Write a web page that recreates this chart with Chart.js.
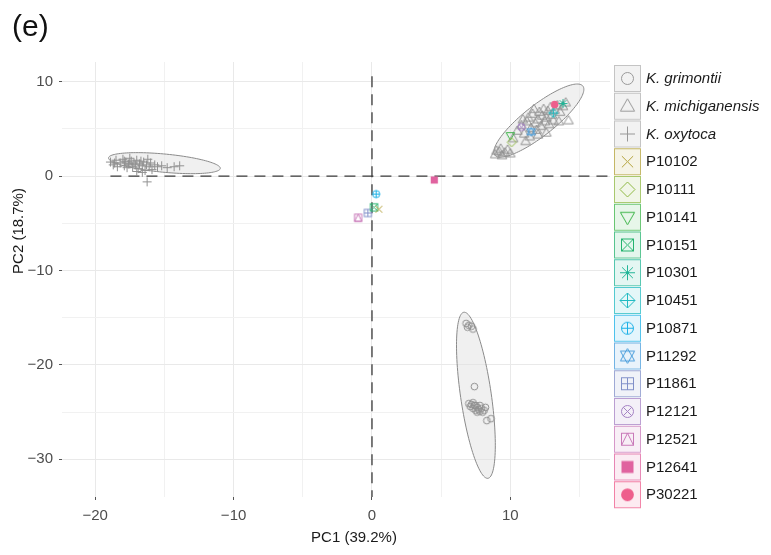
<!DOCTYPE html>
<html>
<head>
<meta charset="utf-8">
<title>PCA</title>
<script src="https://cdn.jsdelivr.net/npm/chart.js@4"></script>
<style>
    html, body { margin: 0; padding: 0; background: #fff; }
    #wrap { width: 771px; height: 555px; }
</style>
</head>
<body>
<div id="wrap"><canvas id="pca" width="771" height="555"></canvas></div>
<script>
// -------------------------------
// Daten (PC1, PC2)
// -------------------------------
const grimontii = [
    [6.8, -15.6], [7.0, -15.8], [7.2, -15.9], [7.3, -16.2], [6.9, -16.0],
    [7.4, -22.3],
    [7.0, -24.1], [7.1, -24.4], [7.2, -24.2], [7.3, -24.6], [7.4, -24.3],
    [7.5, -24.8], [7.6, -24.5], [7.7, -24.7], [7.8, -24.9], [7.9, -24.6],
    [8.0, -25.0], [8.1, -24.8], [8.2, -24.5], [7.5, -24.3], [7.3, -24.0],
    [7.8, -24.3], [8.3, -25.9], [8.6, -25.7], [7.6, -25.0]
];

const michiganensis = [
    [8.9, 2.3], [9.2, 2.6], [9.4, 2.2], [9.6, 2.5], [9.8, 2.8], [9.3, 2.9], [10.0, 2.4], [9.0, 2.7],
    [10.5, 4.8], [10.8, 5.4], [11.0, 4.5], [11.2, 5.8], [11.3, 6.2], [11.5, 5.1], [11.6, 6.6],
    [11.8, 5.6], [11.9, 4.9], [12.0, 6.0], [12.1, 6.8], [12.2, 5.3], [12.3, 6.4], [12.4, 7.1],
    [12.5, 5.8], [12.6, 6.2], [12.7, 6.9], [12.8, 5.5], [12.9, 7.3], [13.0, 6.5], [13.2, 7.0],
    [13.4, 7.5], [13.6, 6.8], [13.8, 7.4], [14.0, 7.8], [12.0, 4.4], [11.4, 4.2], [11.7, 7.1],
    [10.9, 6.0], [13.1, 5.9], [13.5, 5.8], [14.2, 5.9], [10.2, 4.0], [11.1, 3.7], [12.6, 4.6]
];

const oxytoca = [
    [-18.9, 1.5], [-18.7, 1.2], [-18.5, 1.7], [-18.4, 1.0], [-18.2, 1.4], [-18.0, 1.8],
    [-17.9, 1.1], [-17.8, 1.5], [-17.7, 0.9], [-17.6, 1.3], [-17.5, 1.9], [-17.4, 1.6],
    [-17.3, 1.0], [-17.2, 1.4], [-17.1, 1.2], [-17.0, 1.7], [-16.9, 0.8], [-16.8, 1.3],
    [-16.7, 1.6], [-16.6, 1.1], [-16.5, 1.5], [-16.4, 0.6], [-16.3, 1.2], [-16.2, 1.8],
    [-16.1, 1.0], [-16.0, 1.4], [-15.9, 0.7], [-15.7, 1.2], [-15.5, 1.0], [-15.2, 1.1],
    [-14.8, 0.9], [-14.3, 1.0], [-13.9, 1.1], [-17.5, 1.3], [-17.9, 1.6], [-16.6, 0.4],
    [-16.25, -0.6], [-17.0, 0.5], [-18.6, 1.4]
];

const speciesNames = ["K. grimontii", "K. michiganensis", "K. oxytoca"];
const speciesShapes = ["circle", "triangle", "plus"];

const sampleIds = ["P10102", "P10111", "P10141", "P10151", "P10301", "P10451", "P10871",
                   "P11292", "P11861", "P12121", "P12521", "P12641", "P30221"];
const samplePC1 = [0.5, 10.1, 10.0, 0.15, 13.8, 13.1, 0.3, 11.5, -0.3, 10.8, -1.0, 4.5, 13.2];
const samplePC2 = [-3.5, 3.6, 4.3, -3.3, 7.7, 6.7, -1.9, 4.7, -3.9, 5.2, -4.4, -0.4, 7.6];
const sampleShapes = ["x", "diamond", "triDown", "squareX", "asterisk", "diamondPlus", "circlePlus",
                      "starDavid", "squarePlus", "circleX", "squareTri", "squareFill", "circleFill"];
const sampleColors = ["#B3A13A", "#8FB843", "#3DB549", "#25B36F", "#22B597", "#22BBC2", "#1BB0E6",
                      "#4A9EDC", "#8190C8", "#A582C4", "#C97AB9", "#E0629F", "#EE5E8C"];

// Ellipsen: Mittelpunkt und Halbachsen (PC1, PC2)
const ellipseCentre = [[7.51, -23.22], [12.06, 5.89], [-15.0, 1.38]];
const ellipseAxisA  = [[0.87, -8.80], [3.18, 3.66], [4.04, -0.53]];
const ellipseAxisB  = [[1.1, 0.23], [0.68, -1.28], [-0.06, 0.98]];

const xTicks = [-20, -10, 0, 10];
const yTicks = [10, 0, -10, -20, -30];

const GREY = "#919191";
const FONT = "'Liberation Sans', Arial, sans-serif";

// -------------------------------
// Symbole als Canvas
// -------------------------------
function makeSymbol(kind, color, r) {
    const size = Math.ceil(2 * r + 4);
    const c = document.createElement("canvas");
    c.width = c.height = size;
    const g = c.getContext("2d");
    g.translate(size / 2, size / 2);
    g.strokeStyle = color;
    g.fillStyle = color;
    g.lineWidth = 1;

    const line = (x1, y1, x2, y2) => { g.beginPath(); g.moveTo(x1, y1); g.lineTo(x2, y2); g.stroke(); };
    const circle = rr => { g.beginPath(); g.arc(0, 0, rr, 0, Math.PI * 2); g.stroke(); };
    const square = s => g.strokeRect(-s, -s, 2 * s, 2 * s);
    const tri = (rr, dir) => {
        g.beginPath();
        g.moveTo(0, -rr * dir);
        g.lineTo(rr * 0.95, rr * 0.65 * dir);
        g.lineTo(-rr * 0.95, rr * 0.65 * dir);
        g.closePath();
        g.stroke();
    };
    const plus = rr => { line(-rr, 0, rr, 0); line(0, -rr, 0, rr); };
    const cross = rr => { line(-rr, -rr, rr, rr); line(-rr, rr, rr, -rr); };
    const diamond = rr => {
        g.beginPath();
        g.moveTo(0, -rr); g.lineTo(rr, 0); g.lineTo(0, rr); g.lineTo(-rr, 0);
        g.closePath();
        g.stroke();
    };
    const s = r * 0.8;

    switch (kind) {
        case "circle": circle(r * 0.8); break;
        case "triangle": tri(r, 1); break;
        case "triDown": tri(r, -1); break;
        case "plus": plus(r); break;
        case "x": cross(r * 0.75); break;
        case "diamond": diamond(r); break;
        case "squareX": square(s); cross(s); break;
        case "asterisk": plus(r); cross(r * 0.72); break;
        case "diamondPlus": diamond(r); plus(r); break;
        case "circlePlus": circle(r * 0.8); plus(r * 0.8); break;
        case "starDavid": tri(r, 1); tri(r, -1); break;
        case "squarePlus": square(s); plus(s); break;
        case "circleX": circle(r * 0.8); cross(r * 0.57); break;
        case "squareTri":
            square(s);
            g.beginPath(); g.moveTo(0, -s); g.lineTo(s, s); g.lineTo(-s, s); g.closePath(); g.stroke();
            break;
        case "squareFill": g.fillRect(-s, -s, 2 * s, 2 * s); break;
        case "circleFill": g.beginPath(); g.arc(0, 0, r * 0.85, 0, Math.PI * 2); g.fill(); break;
    }
    return c;
}

function rgba(hex, a) {
    const n = parseInt(hex.slice(1), 16);
    return `rgba(${n >> 16},${(n >> 8) & 255},${n & 255},${a})`;
}

// -------------------------------
// Datasets
// -------------------------------
const toPts = arr => arr.map(p => ({ x: p[0], y: p[1] }));
const speciesData = [grimontii, michiganensis, oxytoca];
const speciesSize = [4.2, 5, 4.5];

const datasets = [];

speciesNames.forEach((name, i) => {
    datasets.push({
        label: name,
        data: toPts(speciesData[i]),
        pointStyle: makeSymbol(speciesShapes[i], GREY, speciesSize[i]),
        pointRadius: 4,
        order: 2
    });
});

sampleIds.forEach((id, i) => {
    datasets.push({
        label: id,
        data: [{ x: samplePC1[i], y: samplePC2[i] }],
        pointStyle: makeSymbol(sampleShapes[i], sampleColors[i], 4.5),
        pointRadius: 4,
        order: 1
    });
});

// gestrichelte Nulllinien
const dashStyle = { type: "line", showLine: true, borderColor: "#3a3a3a", borderWidth: 1.3,
                    borderDash: [11, 7], pointRadius: 0, fill: false, order: 5 };
datasets.push({ ...dashStyle, label: "h0", data: [{ x: -18.9, y: 0 }, { x: 17.2, y: 0 }] });
datasets.push({ ...dashStyle, label: "v0", data: [{ x: 0, y: 10.6 }, { x: 0, y: -34 }] });

// -------------------------------
// Ellipsen, Legende, Titel
// -------------------------------
const overlay = {
    id: "overlay",
    beforeDatasetsDraw(chart) {
        const { ctx, chartArea: a, scales: { x, y } } = chart;
        ctx.save();
        ctx.beginPath();
        ctx.rect(a.left, a.top, a.right - a.left, a.bottom - a.top);
        ctx.clip();
        ellipseCentre.forEach((c, i) => {
            const A = ellipseAxisA[i], B = ellipseAxisB[i];
            ctx.beginPath();
            for (let k = 0; k <= 120; k++) {
                const t = k / 120 * Math.PI * 2;
                const px = x.getPixelForValue(c[0] + A[0] * Math.cos(t) + B[0] * Math.sin(t));
                const py = y.getPixelForValue(c[1] + A[1] * Math.cos(t) + B[1] * Math.sin(t));
                k === 0 ? ctx.moveTo(px, py) : ctx.lineTo(px, py);
            }
            ctx.closePath();
            ctx.fillStyle = "rgba(225,225,225,0.5)";
            ctx.fill();
            ctx.strokeStyle = "#8a8a8a";
            ctx.lineWidth = 1;
            ctx.stroke();
        });
        ctx.restore();
    },
    afterDraw(chart) {
        const ctx = chart.ctx;
        ctx.save();

        // Legende
        const labels = speciesNames.concat(sampleIds);
        labels.forEach((lab, i) => {
            const top = 65 + i * 27.75;
            const isSp = i < speciesNames.length;
            const col = isSp ? "#999999" : sampleColors[i - 3];
            ctx.fillStyle = isSp ? "#f2f2f2" : rgba(col, 0.12);
            ctx.fillRect(614, top, 26, 26);
            ctx.strokeStyle = isSp ? "#c4c4c4" : rgba(col, 0.75);
            ctx.lineWidth = 1;
            ctx.strokeRect(614.5, top + 0.5, 26, 26);
            const sym = makeSymbol(isSp ? speciesShapes[i] : sampleShapes[i - 3], col, 7.5);
            ctx.drawImage(sym, 627.5 - sym.width / 2, top + 13.5 - sym.height / 2);
            ctx.fillStyle = "#1a1a1a";
            ctx.font = (isSp ? "italic " : "") + "15px " + FONT;
            ctx.textAlign = "left";
            ctx.textBaseline = "middle";
            ctx.fillText(lab, 646, top + 14);
        });

        // Achsentitel
        ctx.fillStyle = "#1a1a1a";
        ctx.font = "15px " + FONT;
        ctx.textAlign = "center";
        ctx.textBaseline = "middle";
        ctx.fillText("PC1 (39.2%)", 354, 538);
        ctx.translate(19, 231);
        ctx.rotate(-Math.PI / 2);
        ctx.fillText("PC2 (18.7%)", 0, 0);
        ctx.restore();

        ctx.save();
        ctx.fillStyle = "#111";
        ctx.font = "30px " + FONT;
        ctx.textAlign = "left";
        ctx.textBaseline = "alphabetic";
        ctx.fillText("(e)", 12, 36);
        ctx.restore();
    }
};

// -------------------------------
// Chart
// -------------------------------
const isMajor = (v, list) => list.includes(v);
const fmt = v => String(v).replace("-", "\u2212");

new Chart(document.getElementById("pca"), {
    type: "scatter",
    data: { datasets },
    options: {
        responsive: false,
        animation: false,
        events: [],
        layout: { padding: { top: 62, right: 161, left: 0, bottom: 0 } },
        plugins: { legend: { display: false }, tooltip: { enabled: false } },
        scales: {
            x: {
                min: -22.4, max: 17.2,
                afterFit: s => { s.height = 58; },
                afterBuildTicks: s => { s.ticks = [-20, -15, -10, -5, 0, 5, 10, 15].map(v => ({ value: v })); },
                border: { display: false },
                grid: {
                    color: c => isMajor(c.tick.value, xTicks) ? "#e9e9e9" : "#f1f1f1",
                    lineWidth: 1,
                    tickLength: 3,
                    tickColor: c => isMajor(c.tick.value, xTicks) ? "#555" : "rgba(0,0,0,0)"
                },
                ticks: {
                    padding: 7,
                    color: "#4d4d4d",
                    font: { family: FONT, size: 15 },
                    maxRotation: 0,
                    autoSkip: false,
                    callback: v => isMajor(v, xTicks) ? fmt(v) : ""
                }
            },
            y: {
                min: -34.0, max: 12.1,
                afterFit: s => { s.width = 62; },
                afterBuildTicks: s => { s.ticks = [-30, -25, -20, -15, -10, -5, 0, 5, 10].map(v => ({ value: v })); },
                border: { display: false },
                grid: {
                    color: c => isMajor(c.tick.value, yTicks) ? "#e9e9e9" : "#f1f1f1",
                    lineWidth: 1,
                    tickLength: 3,
                    tickColor: c => isMajor(c.tick.value, yTicks) ? "#555" : "rgba(0,0,0,0)"
                },
                ticks: {
                    padding: 6,
                    color: "#4d4d4d",
                    font: { family: FONT, size: 15 },
                    autoSkip: false,
                    callback: v => isMajor(v, yTicks) ? fmt(v) : ""
                }
            }
        }
    },
    plugins: [overlay]
});
</script>
</body>
</html>
